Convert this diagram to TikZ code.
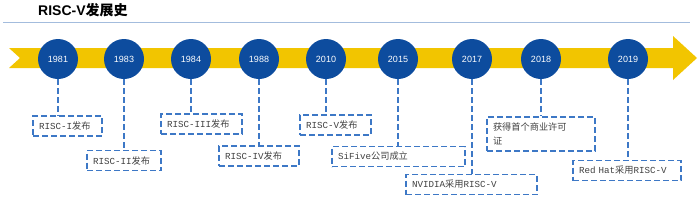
\documentclass[tikz,border=0pt]{standalone}
\usepackage{fontspec}
\setmainfont{Liberation Sans}
\setmonofont{Liberation Mono}
\newfontfamily\cjk{Noto Sans CJK SC}
\usetikzlibrary{positioning,calc}
\definecolor{Gold}{HTML}{F2C500}
\definecolor{Royal}{HTML}{0D4C9E}
\definecolor{DashBlue}{HTML}{3D78C6}
\definecolor{Ink}{HTML}{404040}
\definecolor{Rule}{HTML}{A3BCDD}
\tikzset{
  year node/.style={circle,fill=Royal,minimum size=40pt,inner sep=0pt,
    text=white,font=\fontsize{9}{10}\selectfont},
  event node/.style={draw=DashBlue,line width=1.5pt,dash pattern=on 6pt off 3pt,
    align=left,inner xsep=6pt,inner ysep=4pt,minimum height=20pt,
    font=\cjk\fontsize{9.2}{14}\selectfont,text=Ink},
  event link/.style={draw=DashBlue,line width=1.5pt,dash pattern=on 6pt off 3pt}
}

\begin{document}
\begin{tikzpicture}[x=1pt,y=-1pt]
  \useasboundingbox (0,0) rectangle (698,204);
  \node[anchor=base west,inner sep=0pt,font=\fontsize{14}{16}\selectfont\bfseries] (title) at (38,15) {RISC-V{\cjk 发展史}};
  \draw[Rule,line width=1pt] (3,22) -- (690,22);
  \fill[Gold] (9,48) -- (673,48) -- (673,36) -- (697,58) -- (673,80) -- (673,68) -- (9,68) -- (20,58) -- cycle;
  % years
  \node[year node] (y81) at (58,59) {1981};
  \node[year node] (y83) at (124,59) {1983};
  \node[year node] (y84) at (191,59) {1984};
  \node[year node] (y88) at (259,59) {1988};
  \node[year node] (y10) at (326,59) {2010};
  \node[year node] (y15) at (398,59) {2015};
  \node[year node] (y17) at (472,59) {2017};
  \node[year node] (y18) at (541,59) {2018};
  \node[year node] (y19) at (628,59) {2019};
  % events
  \node[event node,text width=57pt] (e81) at (67.5,126) {\texttt{RISC-I}发布};
  \node[event node,text width=62pt] (e83) at (124,160.5) {\texttt{RISC-II}发布};
  \node[event node,text width=69pt] (e84) at (201.5,124) {\texttt{RISC-III}发布};
  \node[event node,text width=68pt] (e88) at (259,156) {\texttt{RISC-IV}发布};
  \node[event node,text width=59pt] (e10) at (335.5,125) {\texttt{RISC-V}发布};
  \node[event node,text width=121pt] (e15) at (398.5,156.5) {\texttt{SiFive}公司成立};
  \node[event node,text width=119pt] (e17) at (471.5,184.5) {\texttt{NVIDIA}采用\texttt{RISC-V}};
  \node[event node,text width=96pt,minimum height=34pt] (e18) at (541,134) {获得首个商业许可\\证};
  \node[event node,text width=96pt] (e19) at (627,170.5) {\texttt{Red Hat}采用\texttt{RISC-V}};
  % links
  \draw[event link] (y81.south) -- (y81.south |- e81.north);
  \draw[event link] (y83.south) -- (y83.south |- e83.north);
  \draw[event link] (y84.south) -- (y84.south |- e84.north);
  \draw[event link] (y88.south) -- (y88.south |- e88.north);
  \draw[event link] (y10.south) -- (y10.south |- e10.north);
  \draw[event link] (y15.south) -- (y15.south |- e15.north);
  \draw[event link] (y17.south) -- (y17.south |- e17.north);
  \draw[event link] (y18.south) -- (y18.south |- e18.north);
  \draw[event link] (y19.south) -- (y19.south |- e19.north);
\end{tikzpicture}
\end{document}
